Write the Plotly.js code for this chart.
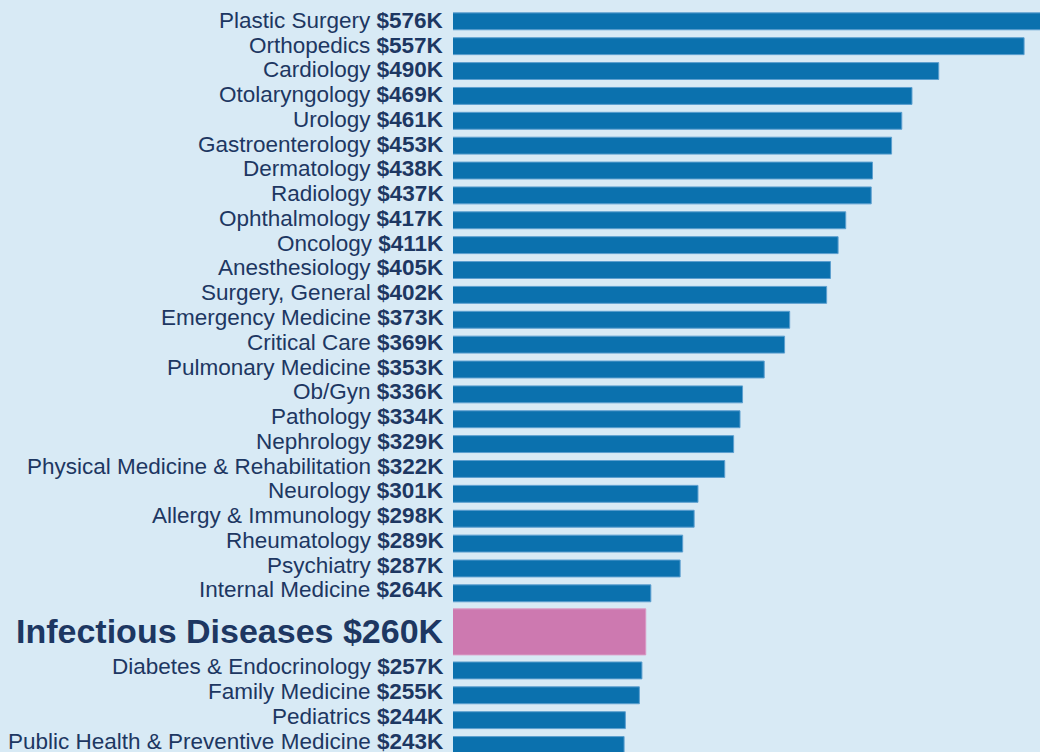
<!DOCTYPE html>
<html>
<head>
<meta charset="utf-8">
<script src="https://cdn.plot.ly/plotly-3.0.1.min.js"></script>
<style>
html,body{margin:0;padding:0;background:#d8eaf5;}
#chart{width:1040px;height:752px;}
</style>
</head>
<body>
<div id="chart"></div>
<script>
const specialties = [
  "Plastic Surgery","Orthopedics","Cardiology","Otolaryngology","Urology",
  "Gastroenterology","Dermatology","Radiology","Ophthalmology","Oncology",
  "Anesthesiology","Surgery, General","Emergency Medicine","Critical Care",
  "Pulmonary Medicine","Ob/Gyn","Pathology","Nephrology",
  "Physical Medicine & Rehabilitation","Neurology","Allergy & Immunology",
  "Rheumatology","Psychiatry","Internal Medicine","Infectious Diseases",
  "Diabetes & Endocrinology","Family Medicine","Pediatrics",
  "Public Health & Preventive Medicine"
];
const compensation = [
  576,557,490,469,461,453,438,437,417,411,405,402,373,369,353,336,334,329,
  322,301,298,289,287,264,260,257,255,244,243
];
const highlight = "Infectious Diseases";

const NAVY = "#1d3762";
const hi = specialties.indexOf(highlight);
const n = specialties.length;
const gap = 0.55;
const ypos = specialties.map((_, i) => i + (i > hi ? 2 * gap : (i === hi ? gap : 0)));
const colors = specialties.map((_, i) => i === hi ? "#cd79b0" : "#0b71ae");
const widths = specialties.map((_, i) => i === hi ? 1.85 : 0.68);
const lineColors = specialties.map((_, i) => i === hi ? "#d99bc4" : "#5c9fcf");

const trace = {
  type: "bar",
  orientation: "h",
  x: compensation,
  y: ypos,
  width: widths,
  marker: {color: colors, line: {color: lineColors, width: 1}},
  hoverinfo: "none"
};

const annotations = specialties.map((s, i) => {
  const label = "$" + compensation[i] + "K";
  const isHi = i === hi;
  return {
    xref: "paper", yref: "y",
    x: 0, y: ypos[i],
    xanchor: "right", yanchor: "middle",
    xshift: -7,
    yshift: isHi ? 1 : 1 + 3 * i / (n - 1),
    showarrow: false,
    text: isHi ? "<b>" + s + " " + label + "</b>" : s + " <b>" + label + "</b>",
    font: {family: "Liberation Sans, Arial, sans-serif", size: isHi ? 34 : 22.5, color: NAVY}
  };
});

const layout = {
  width: 1040, height: 752,
  margin: {l: 453, r: 0, t: 0, b: 0, pad: 0},
  paper_bgcolor: "#d8eaf5",
  plot_bgcolor: "#d8eaf5",
  showlegend: false,
  xaxis: {range: [108.7, 569.5], visible: false, fixedrange: true},
  yaxis: {range: [29.38, -0.857], visible: false, fixedrange: true},
  annotations: annotations
};

Plotly.newPlot("chart", [trace], layout, {displayModeBar: false, staticPlot: true});
</script>
</body>
</html>
